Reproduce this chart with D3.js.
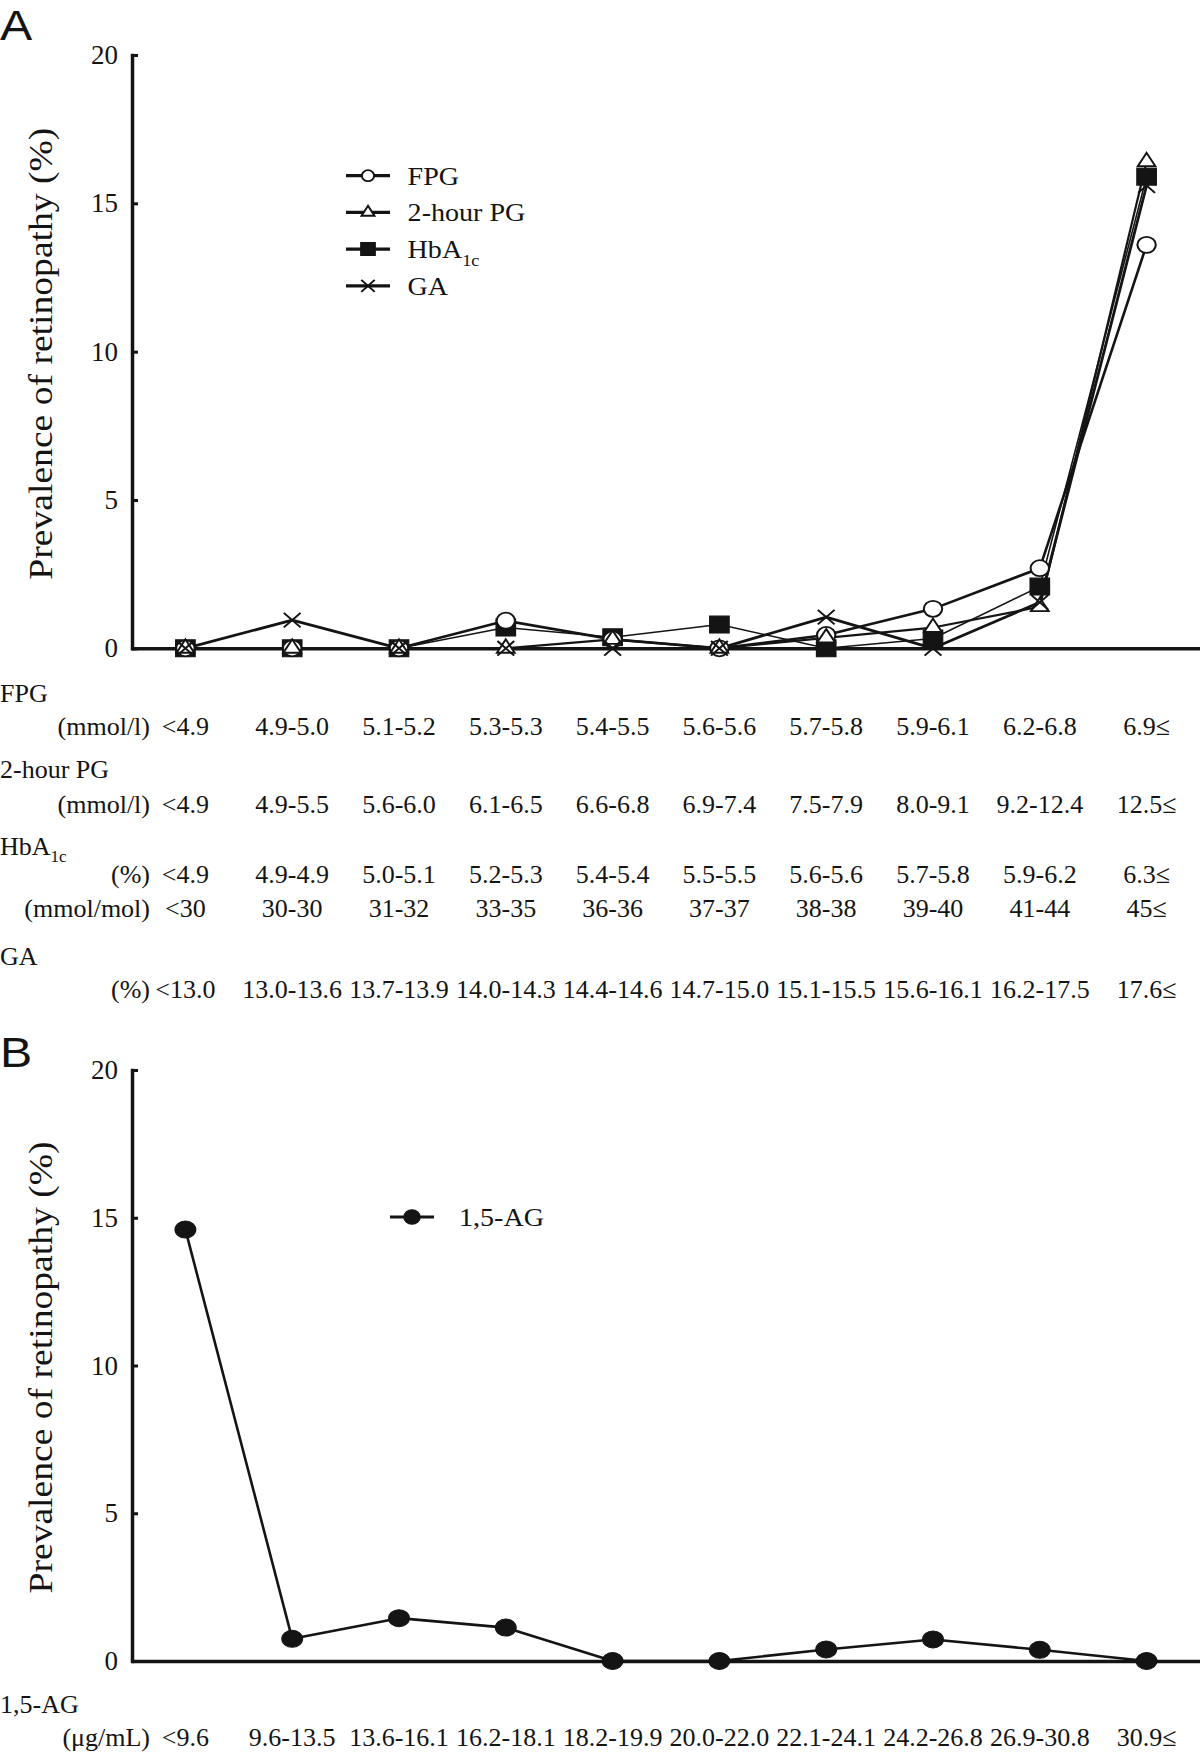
<!DOCTYPE html>
<html><head><meta charset="utf-8">
<script src="https://cdn.jsdelivr.net/npm/d3@7"></script>
<style>body{margin:0;background:#fff} svg{display:block}</style>
</head><body>
<svg id="chart" width="1200" height="1755"></svg>
<script>
// ---------------- DATA ----------------
const categories = [0,1,2,3,4,5,6,7,8,9];
const yTicks = [0, 5, 10, 15, 20];

// Panel A: prevalence of retinopathy (%) by decile
const fpgValues   = [0, 0, 0, 0.93, 0.3, 0, 0.45, 1.33, 2.7, 13.6];
const pg2hValues  = [0, 0, 0, 0, 0.3, 0, 0.35, 0.7, 1.4, 16.4];
const hba1cValues = [0, 0, 0, 0.7, 0.37, 0.8, 0, 0.33, 2.08, 15.9];
const gaValues    = [0, 0.95, 0, 0, 0, 0, 1.05, 0, 1.55, 15.6];

// Panel B
const ag15Values  = [14.6, 0.75, 1.45, 1.13, 0, 0, 0.39, 0.73, 0.38, 0];

// Category (tick) labels
const fpgLabels      = ["<4.9","4.9-5.0","5.1-5.2","5.3-5.3","5.4-5.5","5.6-5.6","5.7-5.8","5.9-6.1","6.2-6.8","6.9≤"];
const pg2hLabels     = ["<4.9","4.9-5.5","5.6-6.0","6.1-6.5","6.6-6.8","6.9-7.4","7.5-7.9","8.0-9.1","9.2-12.4","12.5≤"];
const hbaPctLabels   = ["<4.9","4.9-4.9","5.0-5.1","5.2-5.3","5.4-5.4","5.5-5.5","5.6-5.6","5.7-5.8","5.9-6.2","6.3≤"];
const hbaMmolLabels  = ["<30","30-30","31-32","33-35","36-36","37-37","38-38","39-40","41-44","45≤"];
const gaLabels       = ["<13.0","13.0-13.6","13.7-13.9","14.0-14.3","14.4-14.6","14.7-15.0","15.1-15.5","15.6-16.1","16.2-17.5","17.6≤"];
const agLabels       = ["<9.6","9.6-13.5","13.6-16.1","16.2-18.1","18.2-19.9","20.0-22.0","22.1-24.1","24.2-26.8","26.9-30.8","30.9≤"];

const yAxisTitle = "Prevalence of retinopathy (%)";

// ---------------- DRAW ----------------
const svg = d3.select("#chart");
const SERIF = "'Liberation Serif','Times New Roman',Times,serif";
const SANS = "'Liberation Sans',Arial,Helvetica,sans-serif";
const INK = "#141414";
const X0 = 132, X1 = 1200;
const x = d3.scalePoint().domain(categories).range([X0, X1]).padding(0.5);

const yA = d3.scaleLinear().domain([0, 20]).range([648.3, 55]);
const yB = d3.scaleLinear().domain([0, 20]).range([1661, 1070]);

const symbolX = {
  draw(ctx, size) {
    const r = Math.sqrt(size) / 2;
    ctx.moveTo(-r, -r); ctx.lineTo(r, r);
    ctx.moveTo(r, -r); ctx.lineTo(-r, r);
  }
};

function txt(xp, yp, str, size, anchor, family, sx) {
  const t = svg.append("text")
    .attr("transform", `translate(${xp},${yp}) scale(${sx || 1},1)`)
    .attr("font-family", family || SERIF)
    .attr("font-size", size)
    .attr("text-anchor", anchor || "start")
    .attr("fill", INK)
    .text(str);
  return t;
}

function drawAxes(y) {
  const gy = svg.append("g").attr("transform", `translate(${X0},0)`)
    .call(d3.axisLeft(y).tickValues(yTicks).tickSizeInner(-6).tickSizeOuter(0).tickPadding(14));
  gy.select(".domain").attr("stroke", INK).attr("stroke-width", 3.5).attr("stroke-linecap", "square");
  gy.selectAll(".tick line").attr("stroke", INK).attr("stroke-width", 3);
  gy.selectAll(".tick text").attr("font-family", SERIF).attr("font-size", 27).attr("fill", INK);

  const gx = svg.append("g").attr("transform", `translate(0,${y(0)})`)
    .call(d3.axisBottom(x).tickValues([]).tickSizeOuter(0));
  gx.select(".domain").attr("stroke", INK).attr("stroke-width", 3.5);

  svg.append("text")
    .attr("transform", `translate(52,${(y(0) + y(20)) / 2 + 2}) rotate(-90)`)
    .attr("text-anchor", "middle")
    .attr("font-family", SERIF)
    .attr("font-size", 34)
    .attr("textLength", 452)
    .attr("lengthAdjust", "spacingAndGlyphs")
    .attr("fill", INK)
    .text(yAxisTitle);
}

function drawSeries(y, series, sx) {
  const line = d3.line().x((d, i) => x(categories[i])).y(d => y(d));
  series.forEach(s => {
    svg.append("path").datum(s.values)
      .attr("d", line).attr("fill", "none")
      .attr("stroke", INK).attr("stroke-width", s.lw).attr("stroke-linejoin", "round");
  });
  series.forEach(s => {
    const p = d3.symbol().type(s.symbol).size(s.size)();
    svg.append("g").selectAll("path").data(s.values).join("path")
      .attr("d", p)
      .attr("transform", (d, i) => `translate(${x(categories[i])},${y(d)}) scale(${sx},1)`)
      .attr("fill", s.fill).attr("stroke", INK).attr("stroke-width", s.msw);
  });
}

function drawLegend(items, lx0, lx1, mx, tx, y0, dy) {
  items.forEach((s, k) => {
    const yy = y0 + k * dy;
    svg.append("line").attr("x1", lx0).attr("x2", lx1).attr("y1", yy).attr("y2", yy)
      .attr("stroke", INK).attr("stroke-width", 3.2);
    svg.append("path").attr("d", d3.symbol().type(s.symbol).size(s.lsize)())
      .attr("transform", `translate(${mx},${yy}) scale(1.12,1)`)
      .attr("fill", s.fill).attr("stroke", INK).attr("stroke-width", s.msw);
    const t = txt(tx, yy + 9, s.name, 26, "start", SERIF, 1.08);
    if (s.sub) {
      t.append("tspan").attr("font-size", 17).attr("dy", 8).text(s.sub);
    }
  });
}

// ---------- Panel A ----------
txt(0, 40, "A", 42, "start", SANS, 1.15);
drawAxes(yA);

const seriesA = [
  { name: "FPG", values: fpgValues, symbol: d3.symbolCircle, size: Math.PI * 64, lsize: Math.PI * 30, fill: "#fff", lw: 2.6, msw: 1.8 },
  { name: "2-hour PG", values: pg2hValues, symbol: d3.symbolTriangle, size: 103, lsize: 58, fill: "#fff", lw: 2.2, msw: 1.8 },
  { name: "HbA", sub: "1c", values: hba1cValues, symbol: d3.symbolSquare, size: 17 * 17, lsize: 13 * 13, fill: INK, lw: 1.6, msw: 1 },
  { name: "GA", values: gaValues, symbol: symbolX, size: 213, lsize: 144, fill: "none", lw: 2.8, msw: 1.8 }
];
// draw order: square, circle, triangle, cross
drawSeries(yA, [seriesA[2], seriesA[0], seriesA[1], seriesA[3]], 1.15);
drawLegend(seriesA, 346, 390, 368, 407.6, 175.7, 36.7);

// Category label rows (A)
function labelRow(yy, unit, labels) {
  txt(150, yy, unit, 26, "end");
  labels.forEach((l, i) => txt(x(categories[i]), yy, l, 26, "middle"));
}
txt(0, 702, "FPG", 26);
labelRow(735, "(mmol/l)", fpgLabels);
txt(0, 778, "2-hour PG", 26);
labelRow(813, "(mmol/l)", pg2hLabels);
txt(0, 855, "HbA", 26).append("tspan").attr("font-size", 17).attr("dy", 7).text("1c");
labelRow(883, "(%)", hbaPctLabels);
labelRow(917, "(mmol/mol)", hbaMmolLabels);
txt(0, 965, "GA", 26);
labelRow(998, "(%)", gaLabels);

// ---------- Panel B ----------
txt(0, 1067, "B", 42, "start", SANS, 1.15);
drawAxes(yB);
const seriesB = [
  { name: "1,5-AG", values: ag15Values, symbol: d3.symbolCircle, size: Math.PI * 8.5 * 8.5, lsize: Math.PI * 7.3 * 7.3, fill: INK, lw: 2.6, msw: 1 }
];
drawSeries(yB, seriesB, 1.22);
drawLegend(seriesB, 390, 434, 412, 459, 1217, 36.7);
txt(0, 1713, "1,5-AG", 26);
labelRow(1746, "(μg/mL)", agLabels);
</script>
</body></html>
